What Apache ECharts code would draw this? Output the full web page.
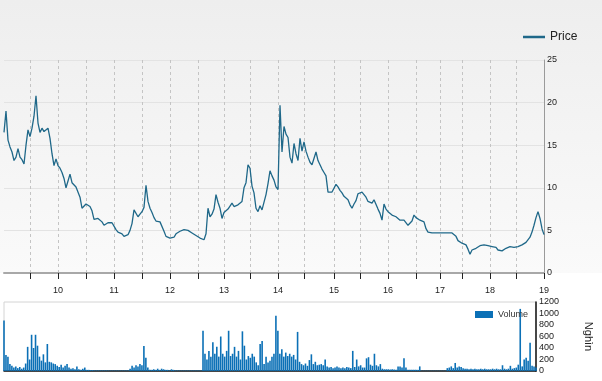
<!DOCTYPE html>
<html>
<head>
<meta charset="utf-8">
<script src="https://cdn.jsdelivr.net/npm/echarts@6/dist/echarts.min.js"></script>
<style>
html,body{margin:0;padding:0;background:#fff;}
#chart{width:602px;height:381px;}
</style>
</head>
<body>
<div id="chart"></div>
<script>
// Price (sampled along the trading-day axis)
const priceValues = [
16.5,19.0,15.6,14.8,14.2,13.2,13.6,14.6,13.6,13.3,
12.8,15.0,16.8,16.0,17.0,18.4,20.8,17.6,16.5,17.0,
16.6,16.4,17.0,15.8,14.0,12.6,13.4,12.6,12.3,11.8,
11.1,10.0,10.8,11.6,10.6,10.4,10.1,10.0,8.9,7.6,
7.8,8.1,8.2,7.8,7.3,6.3,6.5,6.4,6.2,6.0,
5.6,5.4,5.9,6.1,5.9,5.5,5.1,4.8,4.8,4.6,
4.3,4.3,4.5,5.0,5.8,7.4,7.3,6.6,6.9,7.2,
7.7,10.3,8.4,7.6,7.1,6.5,6.1,6.0,6.0,5.8,
4.9,4.3,4.2,4.1,4.3,4.2,4.6,4.8,4.9,5.0,
5.1,5.3,5.0,4.8,4.7,4.6,4.4,4.2,4.1,4.0,
3.9,4.6,7.6,6.6,6.9,7.5,9.2,8.3,7.6,6.4,
7.1,7.3,7.5,7.6,8.2,7.8,7.8,8.0,8.1,8.4,
10.0,10.6,12.7,12.3,10.2,9.4,7.6,7.2,7.9,7.4,
7.6,9.2,10.5,12.0,11.4,10.9,10.1,9.8,19.7,14.2,
17.2,16.3,15.9,13.6,12.9,15.2,14.0,13.2,15.8,14.3,
15.4,14.3,13.6,13.0,12.7,12.9,14.2,13.2,12.7,12.2,
11.8,11.4,9.5,9.5,9.5,9.5,10.4,10.1,9.7,9.4,
9.0,8.8,8.6,8.0,7.6,8.1,8.5,9.3,9.5,9.5,
9.3,8.9,8.4,8.2,8.2,8.6,8.4,7.5,7.0,6.2,
8.1,7.5,7.2,7.0,6.8,6.7,6.6,6.4,6.2,6.2,
6.2,6.0,5.6,5.8,6.1,6.8,6.5,6.3,6.2,6.1,
6.0,5.2,4.8,4.7,4.7,4.7,4.7,4.7,4.7,4.7,
4.7,4.7,4.7,4.7,4.7,4.7,4.3,3.8,3.6,3.5,
3.5,3.3,2.8,2.2,2.7,2.8,2.9,3.1,3.2,3.2,
3.3,3.3,3.2,3.1,3.1,3.1,3.0,2.7,2.6,2.6,
2.7,2.9,3.0,3.1,3.0,3.0,3.1,3.1,3.1,3.3,
3.5,3.6,3.8,4.2,4.8,5.6,6.5,7.2,6.4,5.2,
4.5
];

// Volume (thousand shares)
const volumeValues = [
880,280,250,120,90,60,80,50,70,40,
60,130,420,200,630,400,630,440,250,180,
290,150,470,160,150,130,120,90,70,110,
60,90,120,60,40,50,30,80,30,20,
40,60,20,20,15,15,10,10,10,10,
10,10,10,8,8,8,8,8,8,8,
8,8,10,10,40,90,60,100,80,120,
100,435,230,60,20,20,30,20,40,20,
40,30,20,20,10,30,20,10,10,8,
8,8,8,8,8,8,8,8,8,8,
10,700,300,200,350,250,500,300,420,250,
600,300,250,350,700,260,300,420,250,350,
200,690,440,200,260,230,300,250,150,100,
470,520,120,250,150,180,250,300,960,700,
300,380,250,320,260,300,250,280,200,680,
160,120,100,130,90,190,290,120,160,100,
110,120,100,200,80,60,70,50,60,80,
60,50,60,50,70,60,50,350,70,200,
80,100,60,60,220,240,110,90,300,100,
80,120,40,30,30,30,25,30,25,20,
80,80,60,220,60,20,20,20,20,20,
20,80,5,5,5,5,5,5,5,5,
5,5,5,5,5,50,60,80,50,140,
60,80,70,50,40,40,30,40,30,40,
30,30,40,30,40,30,30,30,40,30,
40,30,30,100,40,30,40,90,40,50,
60,110,1080,80,200,230,180,490,90,80,
60
];

// Axis ticks (category index) and year tick labels
const halfYearTicks = [13,27,41,55,69,83,97,110,123,137,150,165,178,192,206,218,229,243,256,270];
const yearTicks = [27,55,83,110,137,165,192,218,243,270];
const yearLabels = ['10','11','12','13','14','15','16','17','18','19'];
const priceTicks = [0,5,10,15,20,25];
const volumeTicks = [0,200,400,600,800,1000,1200];

const categories = priceValues.map((_, i) => String(i));

const FONT = '"Liberation Sans", Arial, sans-serif';
const chart = echarts.init(document.getElementById('chart'), null, {renderer: 'canvas'});

const option = {
  backgroundColor: '#ffffff',
  animation: false,
  textStyle: {fontFamily: FONT},
  graphic: [{
    type: 'rect', z: -10, silent: true,
    shape: {x: 0, y: 0, width: 602, height: 273},
    style: {fill: new echarts.graphic.LinearGradient(0, 0, 0, 1, [
      {offset: 0, color: '#eeeeee'}, {offset: 1, color: '#fafafa'}])}
  }],
  legend: [{
    data: [{name: 'Price', icon: 'rect'}],
    left: 518, top: 26,
    itemWidth: 22, itemHeight: 2.5, itemGap: 6,
    textStyle: {fontSize: 12, color: '#222', fontFamily: FONT}
  }, {
    data: [{name: 'Volume', icon: 'rect'}],
    left: 470, top: 305,
    itemWidth: 18, itemHeight: 7, itemGap: 4,
    textStyle: {fontSize: 9, color: '#333', fontFamily: FONT}
  }],
  grid: [
    {left: 4, right: 58, top: 60, height: 213, show: false},
    {left: 4, right: 58, top: 302, height: 69, show: true, borderColor: '#d4d4d4', borderWidth: 1, backgroundColor: '#fff'}
  ],
  xAxis: [{
    type: 'category', gridIndex: 0, data: categories, boundaryGap: false,
    axisLine: {show: true, lineStyle: {color: '#a8a8a8', width: 2}},
    axisTick: {show: true, length: 6, lineStyle: {color: '#222'},
      interval: (i) => halfYearTicks.includes(i)},
    axisLabel: {show: true, fontSize: 9, color: '#222', margin: 13, fontFamily: FONT,
      interval: (i) => yearTicks.includes(i),
      formatter: (v, i) => { const k = yearTicks.indexOf(i); return k >= 0 ? yearLabels[k] : ''; }},
    splitLine: {show: true, interval: (i) => halfYearTicks.includes(i),
      lineStyle: {color: '#c4c4c4', type: [3, 3], width: 1}}
  }, {
    type: 'category', gridIndex: 1, data: categories, boundaryGap: false,
    axisLine: {show: true, lineStyle: {color: '#111', width: 1.5}},
    axisTick: {show: false}, axisLabel: {show: false}, splitLine: {show: false}
  }],
  yAxis: [{
    type: 'value', gridIndex: 0, position: 'right', min: 0, max: 25, interval: 5,
    axisLine: {show: true, lineStyle: {color: '#9a9a9a', width: 1}},
    axisTick: {show: false},
    axisLabel: {fontSize: 9, color: '#222', margin: 3, fontFamily: FONT,
      formatter: (v) => priceTicks.includes(v) ? String(v) : ''},
    splitLine: {show: true, lineStyle: {color: '#e3e3e3', width: 1}}
  }, {
    type: 'value', gridIndex: 1, position: 'right', min: 0, max: 1200, interval: 200,
    name: 'Nghìn', nameLocation: 'middle', nameRotate: -90, nameGap: 47,
    nameTextStyle: {fontSize: 11, color: '#222', fontFamily: FONT},
    axisLine: {show: true, lineStyle: {color: '#111', width: 1.5}},
    axisTick: {show: false},
    axisLabel: {fontSize: 9, color: '#222', margin: 3, fontFamily: FONT,
      formatter: (v) => volumeTicks.includes(v) ? String(v) : ''},
    splitLine: {show: false}
  }],
  series: [{
    name: 'Price', type: 'line', xAxisIndex: 0, yAxisIndex: 0,
    data: priceValues, showSymbol: false, symbol: 'none',
    lineStyle: {color: '#1f6889', width: 1.3},
    itemStyle: {color: '#1f6889'}
  }, {
    name: 'Volume', type: 'bar', xAxisIndex: 1, yAxisIndex: 1,
    data: volumeValues, barWidth: 1.6,
    itemStyle: {color: '#0b70b6'}
  }]
};
chart.setOption(option);
</script>
</body>
</html>
